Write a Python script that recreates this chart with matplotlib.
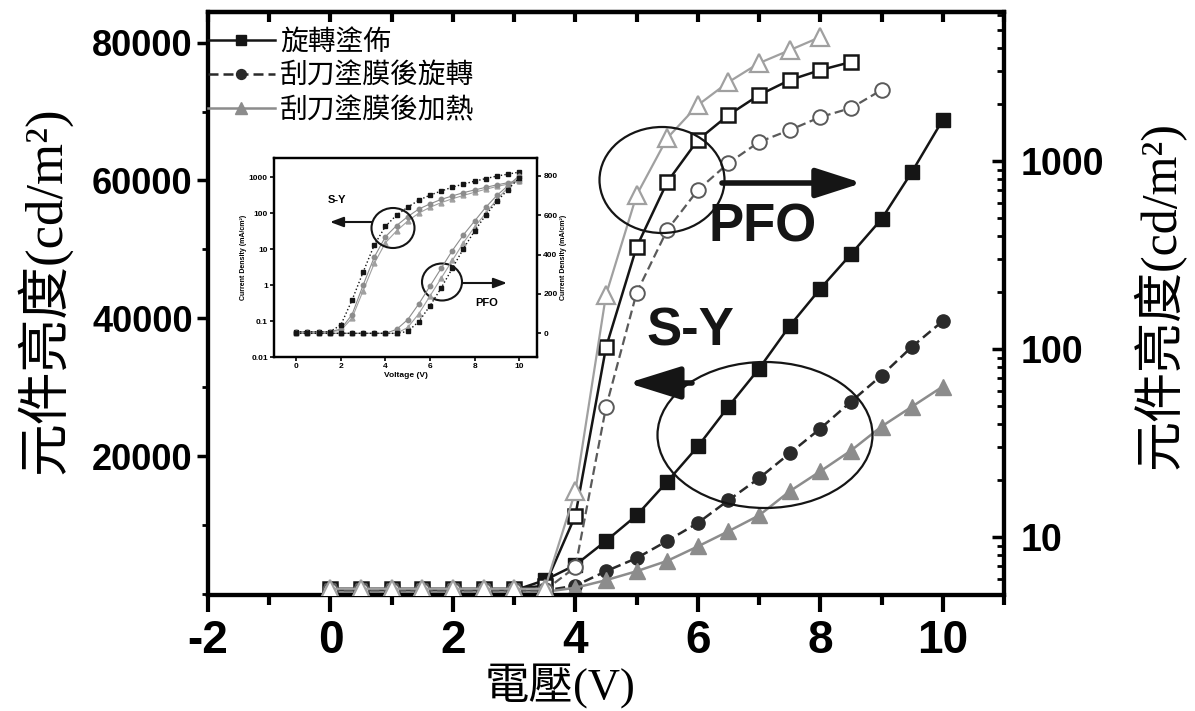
import matplotlib
matplotlib.use("Agg")
import matplotlib.pyplot as plt
from matplotlib.patches import Ellipse
from matplotlib.ticker import MultipleLocator, FixedLocator, NullFormatter, LogLocator

# ---------------- data ----------------
volt_sy = [0.0, 0.5, 1.0, 1.5, 2.0, 2.5, 3.0, 3.5, 4.0, 4.5, 5.0, 5.5, 6.0, 6.5,
           7.0, 7.5, 8.0, 8.5, 9.0, 9.5, 10.0]
sy_spin = [400, 400, 400, 400, 400, 400, 500, 2000, 4200, 7700, 11400, 16300, 21400,
           27200, 32700, 38900, 44300, 49300, 54400, 61300, 68800]
sy_blade_spin = [300, 300, 300, 300, 300, 300, 300, 500, 1200, 3300, 5200, 7700, 10300,
                 13600, 16800, 20400, 24000, 27900, 31700, 35900, 39600]
sy_blade_heat = [300, 300, 300, 300, 300, 300, 300, 300, 900, 2000, 3300, 4800, 6900,
                 9100, 11400, 14900, 17800, 20800, 24300, 27200, 30100]

volt_pfo_spin = [0.0, 0.5, 1.0, 1.5, 2.0, 2.5, 3.0, 3.5, 4.0, 4.5, 5.0, 5.5, 6.0, 6.5,
                 7.0, 7.5, 8.0, 8.5]
pfo_spin = [5.3, 5.3, 5.3, 5.3, 5.3, 5.3, 5.3, 5.5, 13, 102, 349, 773, 1294, 1757,
            2245, 2697, 3048, 3364]
volt_pfo_blade_spin = [0.0, 0.5, 1.0, 1.5, 2.0, 2.5, 3.0, 3.5, 4.0, 4.5, 5.0, 5.5, 6.0,
                       6.5, 7.0, 7.5, 8.0, 8.5, 9.0]
pfo_blade_spin = [5.2, 5.2, 5.2, 5.2, 5.2, 5.2, 5.2, 5.2, 6.9, 49, 199, 430, 701, 975,
                  1263, 1462, 1714, 1914, 2388]
volt_pfo_blade_heat = [0.0, 0.5, 1.0, 1.5, 2.0, 2.5, 3.0, 3.5, 4.0, 4.5, 5.0, 5.5, 6.0,
                       6.5, 7.0, 7.5, 8.0]
pfo_blade_heat = [5.3, 5.3, 5.3, 5.3, 5.3, 5.3, 5.3, 5.3, 17.5, 194, 659, 1325, 1985,
                  2630, 3320, 3890, 4570]

legend_labels = ["旋轉塗佈", "刮刀塗膜後旋轉", "刮刀塗膜後加熱"]
x_ticks = [-2, 0, 2, 4, 6, 8, 10]
left_ticks = [20000, 40000, 60000, 80000]
right_ticks = [10, 100, 1000]

# inset data
inset_volt = [0.0, 0.5, 1.0, 1.5, 2.0, 2.5, 3.0, 3.5, 4.0, 4.5, 5.0, 5.5, 6.0, 6.5,
              7.0, 7.5, 8.0, 8.5, 9.0, 9.5, 10.0]
inset_sy_a = [0.05, 0.05, 0.05, 0.05, 0.078, 0.38, 2.3, 13, 43, 88, 146, 229, 316, 410,
              525, 640, 770, 910, 1070, 1210, 1380]
inset_sy_b = [0.05, 0.05, 0.05, 0.05, 0.06, 0.15, 1.0, 6, 22, 45, 80, 130, 180, 240,
              300, 370, 440, 520, 610, 700, 800]
inset_sy_c = [0.05, 0.05, 0.05, 0.05, 0.055, 0.12, 0.7, 4, 15, 32, 60, 100, 145, 195,
              250, 310, 380, 460, 550, 640, 760]
inset_pfo_a = [0, 0, 0, 0, 0, 0, 0, 0, 0, 0, 10, 60, 140, 230, 330, 430, 520, 600, 670,
               730, 790]
inset_pfo_b = [0, 0, 0, 0, 0, 0, 0, 0, 0, 20, 70, 150, 240, 330, 420, 500, 570, 640, 700,
               750, 800]
inset_pfo_c = [0, 0, 0, 0, 0, 0, 0, 0, 0, 0, 30, 100, 190, 280, 370, 460, 540, 610, 680,
               740, 800]

# ---------------- styling ----------------
plt.rcParams['font.family'] = ['Liberation Sans', 'Noto Sans CJK TC', 'DejaVu Sans']
LABEL_FAM = ['Liberation Serif', 'Noto Sans CJK TC', 'DejaVu Sans']
CJK_FAM = ['Noto Sans CJK TC', 'DejaVu Sans']

BLACK = '#151515'
DARK = '#2a2a2a'
GRAY = '#8c8c8c'
LGRAY = '#a0a0a0'
MGRAY = '#5a5a5a'

W, H = 1195, 711
fig = plt.figure(figsize=(W / 100, H / 100), dpi=100)
fig.patch.set_facecolor('white')

L, R, T, B = 208, 1004, 12, 595
ax = fig.add_axes([L / W, 1 - B / H, (R - L) / W, (B - T) / H])
ax2 = ax.twinx()

# filled markers: S-Y, left linear axis
h1, = ax.plot(volt_sy, sy_spin, '-', color=BLACK, lw=1.8, marker='s', ms=9.5,
              mfc=BLACK, mec=BLACK, zorder=3)
h2, = ax.plot(volt_sy, sy_blade_spin, '--', color=DARK, lw=1.8, marker='o', ms=9.5,
              mfc=DARK, mec=DARK, dashes=(4, 2), zorder=3)
h3, = ax.plot(volt_sy, sy_blade_heat, '-', color=GRAY, lw=1.8, marker='^', ms=11.5,
              mfc=GRAY, mec=GRAY, zorder=3)

# open markers: PFO, right log axis
ax2.plot(volt_pfo_spin, pfo_spin, '-', color=BLACK, lw=1.8, marker='s', ms=10.5,
         mfc='white', mec=BLACK, mew=1.8, zorder=3)
ax2.plot(volt_pfo_blade_spin, pfo_blade_spin, '--', color=MGRAY, lw=1.6, marker='o',
         ms=10.5, mfc='white', mec=MGRAY, mew=1.4, dashes=(4, 2), zorder=3)
ax2.plot(volt_pfo_blade_heat, pfo_blade_heat, '-', color=LGRAY, lw=1.6, marker='^',
         ms=13.5, mfc='white', mec=LGRAY, mew=1.6, zorder=3)

ax.set_xlim(-2, 11)
ax.set_ylim(-150, 84450)
ax2.set_yscale('log')
ax2.set_ylim(4.91, 6210)

ax.xaxis.set_major_locator(FixedLocator(x_ticks))
ax.xaxis.set_minor_locator(MultipleLocator(1))
ax.yaxis.set_major_locator(FixedLocator(left_ticks))
ax.yaxis.set_minor_locator(MultipleLocator(10000))
ax2.yaxis.set_major_locator(FixedLocator(right_ticks))
ax2.yaxis.set_minor_locator(LogLocator(base=10, subs=range(2, 10)))
ax2.yaxis.set_minor_formatter(NullFormatter())

ax.set_xticklabels([str(v) for v in x_ticks])
ax.set_yticklabels([str(v) for v in left_ticks])
ax2.set_yticklabels([str(v) for v in right_ticks])

for s in ax.spines.values():
    s.set_linewidth(3)
for s in ax2.spines.values():
    s.set_linewidth(3)

ax.tick_params(axis='x', which='major', direction='out', length=12, width=3, pad=5,
               labelsize=33, top=False)
ax.tick_params(axis='x', which='minor', direction='out', length=7, width=3, top=False)
ax.tick_params(axis='y', which='major', direction='out', length=8, width=2.5, pad=3,
               labelsize=26)
ax.tick_params(axis='y', which='minor', direction='out', length=4, width=2)
ax2.tick_params(axis='y', which='major', direction='in', length=9, width=2.5, pad=12,
                labelsize=27)
ax2.tick_params(axis='y', which='minor', direction='in', length=5, width=2)
for lab in ax.get_xticklabels() + ax.get_yticklabels() + ax2.get_yticklabels():
    lab.set_fontweight('bold')

# top inward ticks
axt = ax.secondary_xaxis('top')
axt.xaxis.set_major_locator(MultipleLocator(1))
axt.tick_params(direction='in', length=7, width=3, labeltop=False)
axt.spines['top'].set_linewidth(3)

ax.set_xlabel("電壓(V)", fontsize=32, family=LABEL_FAM)
ax.xaxis.set_label_coords(0.442, -0.118)
ax.set_ylabel("元件亮度(cd/m²)", fontsize=38, family=LABEL_FAM)
ax.yaxis.set_label_coords(-0.171, 0.523)
ax2.set_ylabel("元件亮度(cd/m²)", fontsize=36, family=LABEL_FAM)
ax2.yaxis.set_label_coords(1.162, 0.515)

leg = ax2.legend([h1, h2, h3], legend_labels, loc='upper left',
                 bbox_to_anchor=(0.0, 0.975), frameon=False, borderpad=0,
                 borderaxespad=0, handlelength=2.4, handletextpad=0.2,
                 labelspacing=0.15, markerscale=0.75,
                 prop={'family': CJK_FAM, 'size': 20})

# annotations in main plot (axes fractions)
def fx(px):
    return (px - L) / (R - L)

def fy(py):
    return (B - py) / (B - T)

ax2.add_patch(Ellipse((fx(662), fy(180)), 125 / (R - L), 106 / (B - T),
                      transform=ax2.transAxes, fill=False, ec=BLACK, lw=1.6, zorder=5))
ax2.add_patch(Ellipse((fx(765), fy(435)), 215 / (R - L), 146 / (B - T),
                      transform=ax2.transAxes, fill=False, ec=BLACK, lw=1.6, zorder=5))
ax2.annotate('', xy=(fx(862), fy(183)), xytext=(fx(722), fy(183)),
             xycoords='axes fraction', textcoords='axes fraction',
             arrowprops=dict(arrowstyle='-|>,head_length=1.4,head_width=0.45',
                             lw=4, color=BLACK, shrinkA=0, shrinkB=0,
                             mutation_scale=20), zorder=6)
ax2.annotate('', xy=(fx(628), fy(383)), xytext=(fx(692), fy(383)),
             xycoords='axes fraction', textcoords='axes fraction',
             arrowprops=dict(arrowstyle='-|>,head_length=1.6,head_width=0.5',
                             lw=4, color=BLACK, shrinkA=0, shrinkB=0,
                             mutation_scale=20), zorder=6)
ax2.text(fx(763), fy(228), "PFO", transform=ax2.transAxes, ha='center', va='center',
         fontsize=38, fontweight='bold', color=BLACK, zorder=6)
ax2.text(fx(690), fy(332), "S-Y", transform=ax2.transAxes, ha='center', va='center',
         fontsize=38, fontweight='bold', color=BLACK, zorder=6)

# ---------------- inset ----------------
IL, IR, IT, IB = 274, 537, 158, 357
axi = fig.add_axes([IL / W, 1 - IB / H, (IR - IL) / W, (IB - IT) / H])
axi.set_zorder(ax2.get_zorder() + 1)
axi.patch.set_facecolor('white')
axi2 = axi.twinx()
axi2.set_zorder(axi.get_zorder() + 1)

axi.plot(inset_volt, inset_sy_c, '-', color=LGRAY, lw=0.8, marker='^', ms=3.5,
         mfc=LGRAY, mec=LGRAY)
axi.plot(inset_volt, inset_sy_b, '-', color=GRAY, lw=0.8, marker='o', ms=3.2,
         mfc=GRAY, mec=GRAY)
axi.plot(inset_volt, inset_sy_a, ':', color=BLACK, lw=1.0, marker='s', ms=3,
         mfc=BLACK, mec=BLACK)
axi2.plot(inset_volt, inset_pfo_c, '-', color=LGRAY, lw=0.8, marker='^', ms=3.5,
          mfc=LGRAY, mec=LGRAY)
axi2.plot(inset_volt, inset_pfo_b, '-', color=GRAY, lw=0.8, marker='o', ms=3.2,
          mfc=GRAY, mec=GRAY)
axi2.plot(inset_volt, inset_pfo_a, ':', color=BLACK, lw=1.0, marker='s', ms=3,
          mfc=BLACK, mec=BLACK)

axi.set_xlim(-1, 10.8)
axi.set_yscale('log')
axi.set_ylim(0.01, 3400)
axi2.set_ylim(-120, 890)
axi.set_xticks([0, 2, 4, 6, 8, 10])
axi.set_yticks([0.01, 0.1, 1, 10, 100, 1000])
axi.set_yticklabels(['0.01', '0.1', '1', '10', '100', '1000'])
axi.yaxis.set_minor_formatter(NullFormatter())
axi2.set_yticks([0, 200, 400, 600, 800])
for s in list(axi.spines.values()) + list(axi2.spines.values()):
    s.set_linewidth(1.6)
axi.tick_params(labelsize=6, width=1.2, length=3, pad=1.5)
axi.tick_params(which='minor', length=0)
axi2.tick_params(labelsize=6, width=1.2, length=3, pad=1.5)
for lab in axi.get_xticklabels() + axi.get_yticklabels() + axi2.get_yticklabels():
    lab.set_fontweight('bold')
axi.set_xlabel("Voltage (V)", fontsize=6, fontweight='bold', labelpad=1)
axi.set_ylabel("Current Density (mA/cm²)", fontsize=5, fontweight='bold', labelpad=1)
axi2.set_ylabel("Current Density (mA/cm²)", fontsize=5, fontweight='bold', labelpad=2)

def ifx(px):
    return (px - IL) / (IR - IL)

def ify(py):
    return (IB - py) / (IB - IT)

axi2.add_patch(Ellipse((ifx(393), ify(228)), 43 / (IR - IL), 40 / (IB - IT),
                       transform=axi2.transAxes, fill=False, ec=BLACK, lw=1.5))
axi2.add_patch(Ellipse((ifx(442), ify(282)), 40 / (IR - IL), 37 / (IB - IT),
                       transform=axi2.transAxes, fill=False, ec=BLACK, lw=1.5))
axi2.annotate('', xy=(ifx(330), ify(222)), xytext=(ifx(372), ify(222)),
              xycoords='axes fraction', textcoords='axes fraction',
              arrowprops=dict(arrowstyle='-|>,head_length=0.8,head_width=0.3',
                              lw=1.5, color=BLACK, shrinkA=0, shrinkB=0,
                              mutation_scale=10))
axi2.annotate('', xy=(ifx(507), ify(283)), xytext=(ifx(462), ify(283)),
              xycoords='axes fraction', textcoords='axes fraction',
              arrowprops=dict(arrowstyle='-|>,head_length=0.8,head_width=0.3',
                              lw=1.5, color=BLACK, shrinkA=0, shrinkB=0,
                              mutation_scale=10))
axi2.text(ifx(337), ify(200), "S-Y", transform=axi2.transAxes, ha='center',
          va='center', fontsize=8, fontweight='bold')
axi2.text(ifx(487), ify(303), "PFO", transform=axi2.transAxes, ha='center',
          va='center', fontsize=8, fontweight='bold')

fig.savefig("out.png", dpi=100, facecolor='white')
